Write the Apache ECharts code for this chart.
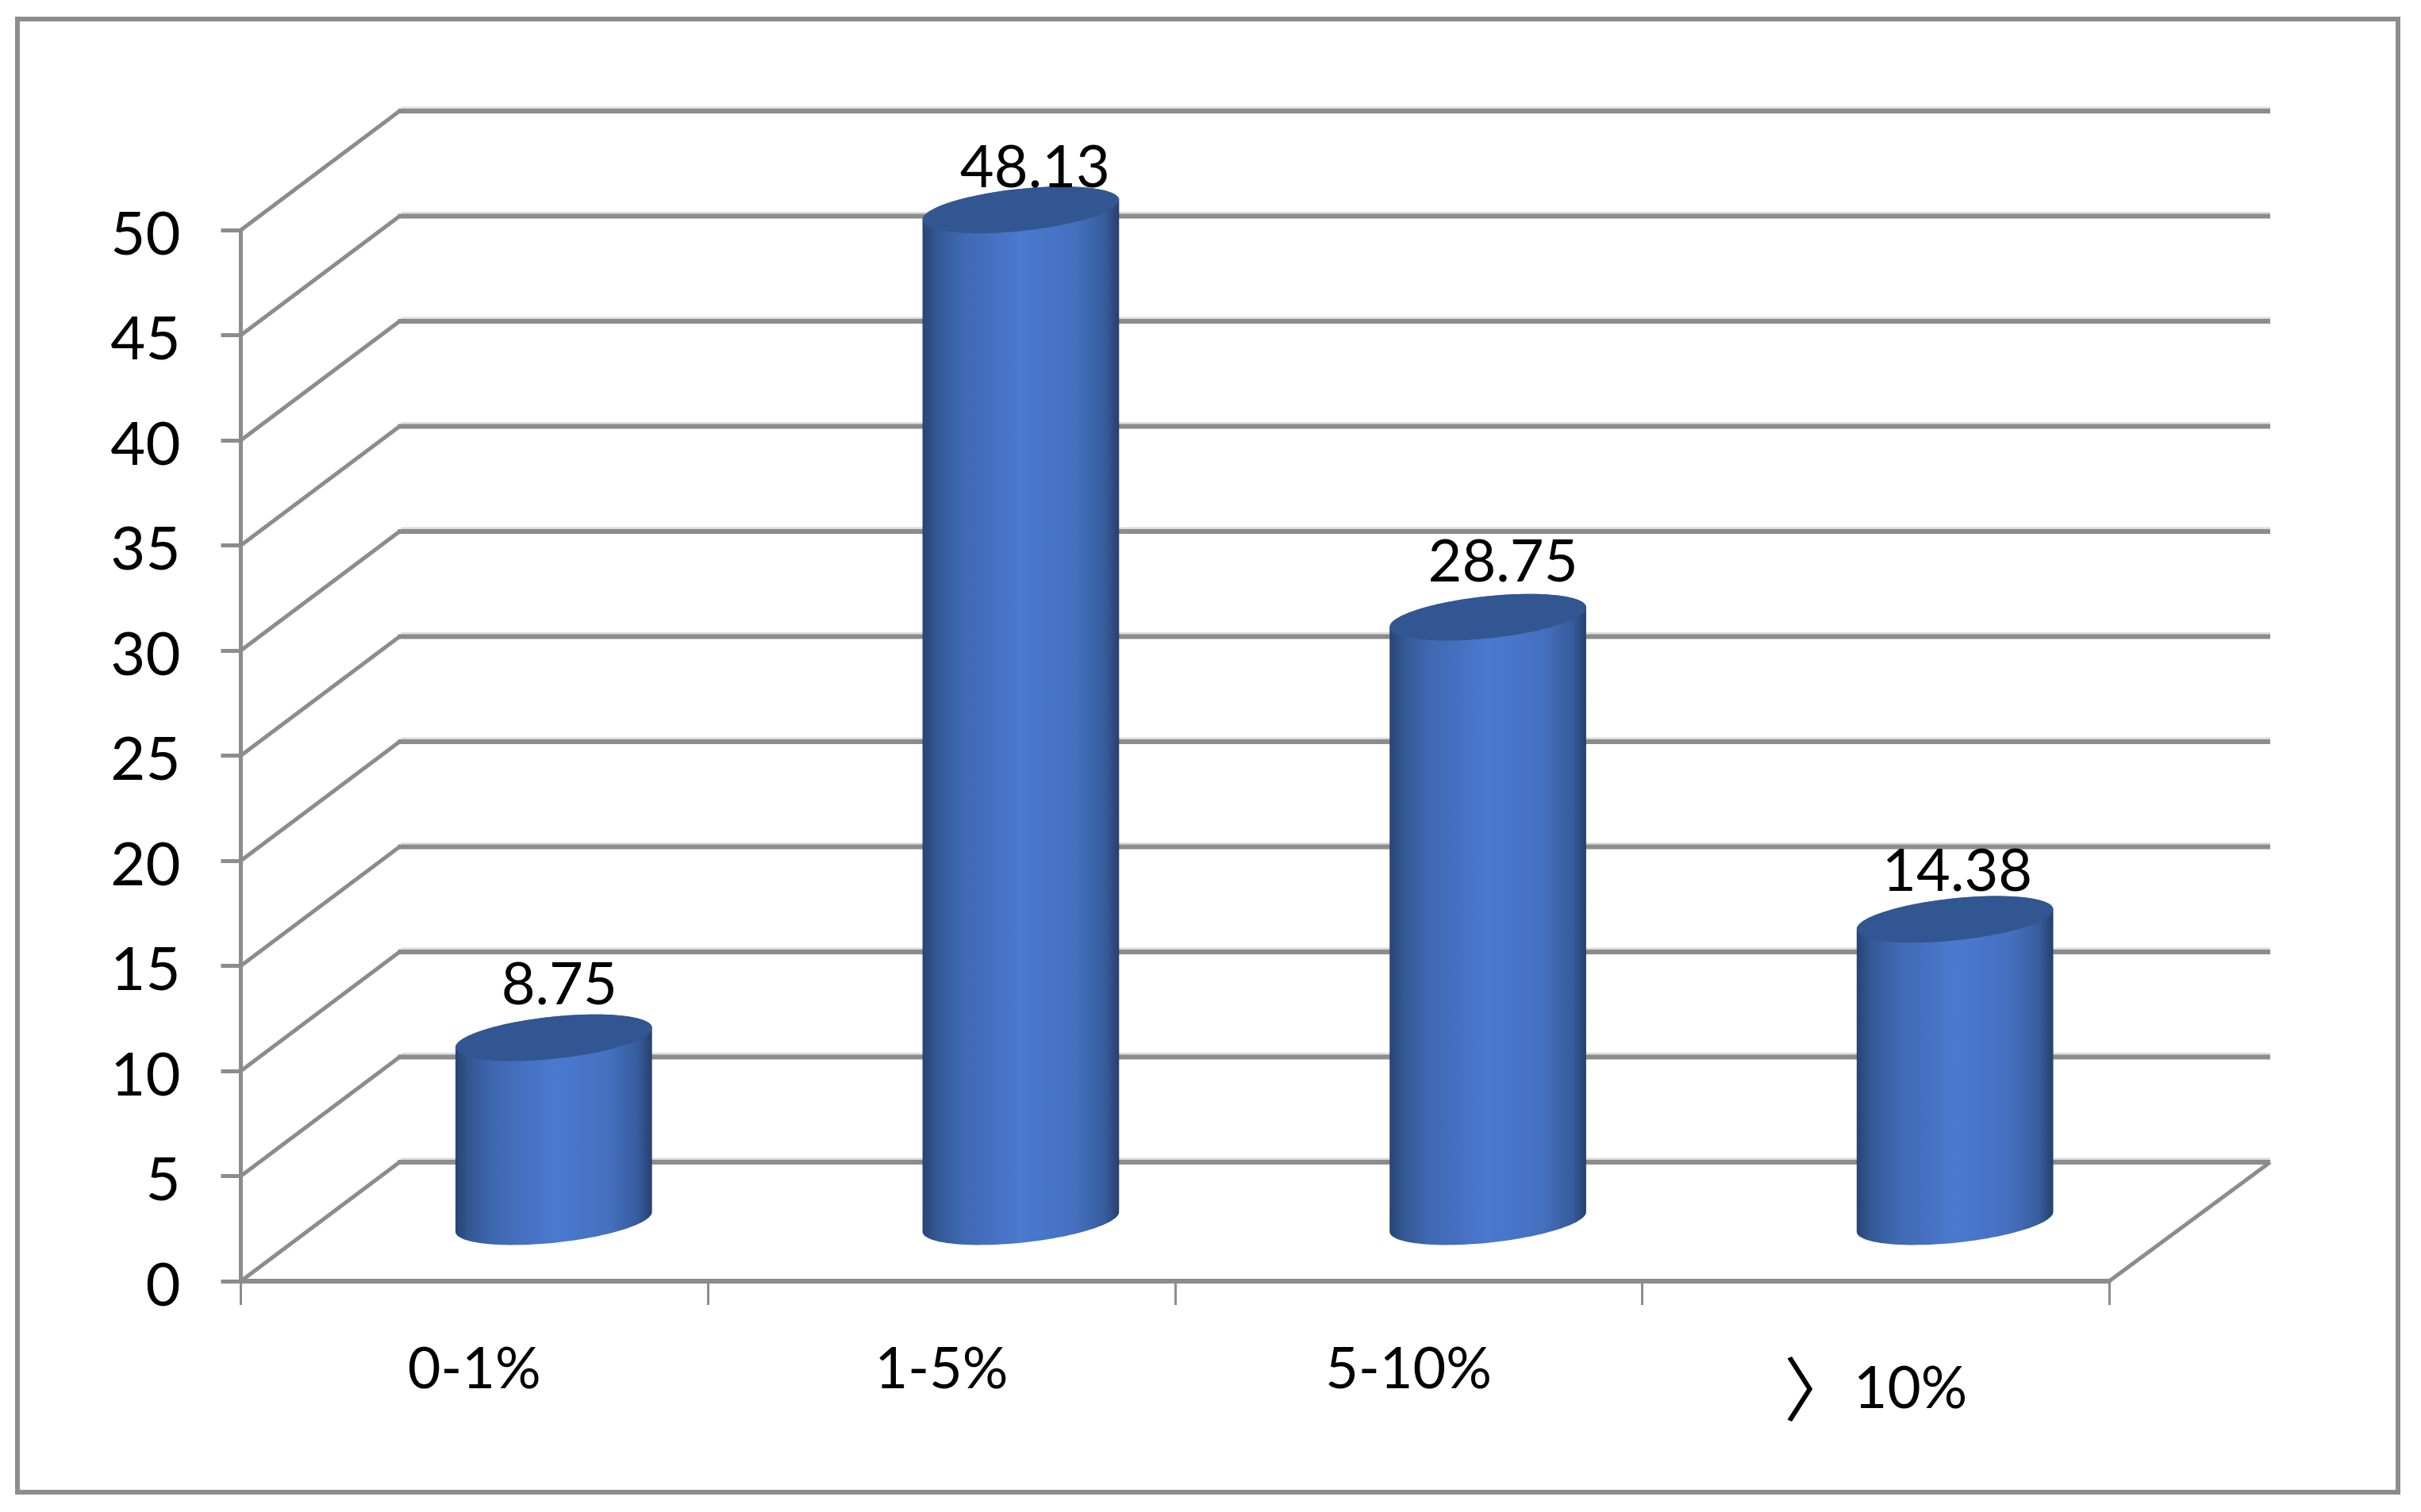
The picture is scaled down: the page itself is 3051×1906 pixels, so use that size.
<!DOCTYPE html>
<html>
<head>
<meta charset="utf-8">
<style>html,body{margin:0;padding:0;background:#fff}#c{width:3051px;height:1906px}</style>
<script src="https://cdn.jsdelivr.net/npm/echarts@6/dist/echarts.min.js"></script>
</head>
<body>
<div id="c"></div>
<script>
const categories = ['0-1%', '1-5%', '5-10%', '〉10%'];
const values = [8.75, 48.13, 28.75, 14.38];
const valueLabels = ['8.75', '48.13', '28.75', '14.38'];
const yTicks = [0, 5, 10, 15, 20, 25, 30, 35, 40, 45, 50];

const labelNudgeX = [7, 18, 19, 3];
const labelNudgeY = [-66, -52, -69, -60];
const DX = 200, DY = -150;
const GRAY = '#8c8c8c';
const A = 124.5, B = 26.5, PHI = 6 * Math.PI / 180;
const FONT = 'Lato, "Noto Sans", sans-serif';

function arc(cx, cy, from, to) {
  const pts = [];
  const n = 48;
  for (let i = 0; i <= n; i++) {
    const t = from + (to - from) * i / n;
    pts.push([
      cx + A * Math.cos(t) * Math.cos(PHI) + B * Math.sin(t) * Math.sin(PHI),
      cy - A * Math.cos(t) * Math.sin(PHI) + B * Math.sin(t) * Math.cos(PHI)
    ]);
  }
  return pts;
}
const T0 = Math.atan(B * Math.tan(PHI) / A);

function renderWall(params, api) {
  const v = api.value(0);
  const p = api.coord([0, v]);
  const sys = params.coordSys;
  const x0 = sys.x, x1 = sys.x + sys.width, y = p[1];
  const xEnd = x1 + DX + 3;
  const children = [
    { type: 'line', shape: { x1: x0 + DX + 2, y1: y + DY - 4, x2: xEnd, y2: y + DY - 4 }, style: { stroke: '#dedede', lineWidth: 3 } },
    { type: 'line', shape: { x1: x0 + DX - 2, y1: y + DY, x2: xEnd, y2: y + DY }, style: { stroke: GRAY, lineWidth: 6 } },
    { type: 'line', shape: { x1: x0, y1: y, x2: x0 + DX, y2: y + DY }, style: { stroke: GRAY, lineWidth: 5 } }
  ];
  if (v === 0) {
    children.push({ type: 'line', shape: { x1: x1, y1: y, x2: xEnd, y2: y + DY }, style: { stroke: GRAY, lineWidth: 5 } });
  }
  return { type: 'group', children };
}

function renderBar(params, api) {
  const i = api.value(0);
  const top = api.coord([i, api.value(1)]);
  const base = api.coord([i, 0]);
  const cx = top[0] + 100;
  const topY = top[1] + DY / 2;
  const baseY = base[1] + DY / 2;
  const body = arc(cx, baseY, T0, T0 + Math.PI).concat(arc(cx, topY, T0 + Math.PI, T0 + 2 * Math.PI));
  const cap = arc(cx, topY, 0, 2 * Math.PI);
  return {
    type: 'group',
    children: [
      { type: 'polygon', shape: { points: body }, style: {
        fill: { type: 'linear', x: 0, y: 0, x2: 1, y2: 0, colorStops: [
          { offset: 0, color: '#274474' },
          { offset: 0.07, color: '#335894' },
          { offset: 0.2, color: '#3f68b2' },
          { offset: 0.5, color: '#4a79cf' },
          { offset: 0.78, color: '#4470bf' },
          { offset: 0.93, color: '#365c9c' },
          { offset: 1, color: '#263f6e' }
        ] }
      } },
      { type: 'polygon', shape: { points: cap }, style: { fill: '#325691' } },
      { type: 'text', z2: 10, style: {
        text: valueLabels[i], x: cx + labelNudgeX[i], y: topY + labelNudgeY[i],
        align: 'center', verticalAlign: 'middle', fill: '#000', font: '74px ' + FONT
      } }
    ]
  };
}

const chart = echarts.init(document.getElementById('c'));
chart.setOption({
  animation: false,
  backgroundColor: '#fff',
  graphic: [{
    type: 'rect', silent: true, z: -10,
    shape: { x: 22, y: 24, width: 3000, height: 1857 },
    style: { fill: '#fff', stroke: GRAY, lineWidth: 6 }
  }],
  grid: { left: 303.5, right: 393, top: 290, bottom: 291, containLabel: false },
  xAxis: {
    type: 'category',
    data: categories,
    boundaryGap: true,
    axisLine: { lineStyle: { color: GRAY, width: 6 } },
    axisTick: { show: true, alignWithLabel: false, length: 30, lineStyle: { color: GRAY, width: 3 } },
    axisLabel: {
      margin: 76, interval: 0, color: '#000', fontFamily: FONT, fontSize: 72,
      formatter: (v) => v.startsWith('〉') ? '{g|〉}{n|' + v.slice(1) + '}' : v,
      rich: {
        g: { fontFamily: '"Noto Sans CJK SC"', fontSize: 88, color: '#000', padding: [16, 0, 0, 0] },
        n: { fontFamily: FONT, fontSize: 73, color: '#000', padding: [16, 0, 0, 0] }
      }
    }
  },
  yAxis: {
    type: 'value', min: 0, max: 50, interval: 5,
    splitLine: { show: false },
    axisLine: { show: true, lineStyle: { color: GRAY, width: 5 } },
    axisTick: { show: true, length: 25, lineStyle: { color: GRAY, width: 5 } },
    axisLabel: {
      margin: 76, color: '#000', fontFamily: FONT, fontSize: 76,
      formatter: '{v|{value}}',
      rich: { v: { fontFamily: FONT, fontSize: 76, color: '#000', padding: [12, 0, 0, 0] } }
    }
  },
  series: [
    {
      type: 'custom', name: 'walls', z: 1, clip: false, silent: true,
      coordinateSystem: 'cartesian2d',
      encode: { y: 0 },
      data: yTicks.map(t => [t]),
      renderItem: renderWall
    },
    {
      type: 'custom', name: 'values', z: 5, clip: false, silent: true,
      coordinateSystem: 'cartesian2d',
      encode: { x: 0, y: 1 },
      data: values.map((v, i) => [i, v]),
      renderItem: renderBar
    }
  ]
});
</script>
</body>
</html>
